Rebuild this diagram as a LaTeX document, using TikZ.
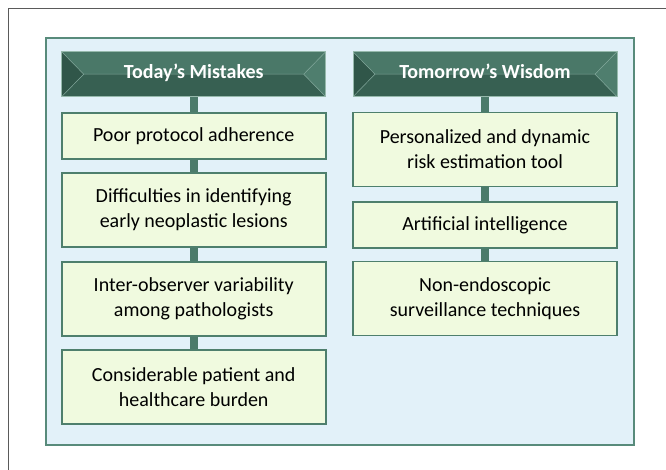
\documentclass[tikz,border=0pt]{standalone}
\usepackage{fontspec}
\setmainfont{Carlito}
\usepackage{tikz}
\usetikzlibrary{calc}
\definecolor{framegray}{RGB}{90,90,90}
\definecolor{panelfill}{RGB}{226,241,249}
\definecolor{panelrim}{RGB}{88,139,123}
\definecolor{boxfill}{RGB}{240,250,223}
\definecolor{boxrim}{RGB}{78,127,109}
\definecolor{linkgreen}{RGB}{75,123,107}
\definecolor{hdrtop}{RGB}{74,120,104}
\definecolor{hdrbot}{RGB}{55,96,82}
\definecolor{hdrleft}{RGB}{48,86,73}
\definecolor{hdrright}{RGB}{79,126,110}
\definecolor{hdrrim}{RGB}{150,185,172}
\tikzset{
  item/.style={rectangle, draw=boxrim, fill=boxfill, line width=1.6pt,
    minimum width=264pt, align=center, inner sep=0pt,
    font=\fontsize{20}{25}\selectfont},
  shortitem/.style={item, minimum height=46pt},
  tallitem/.style={item, minimum height=74pt},
  hdr/.style={rectangle, draw=hdrrim, line width=0.8pt, text=white,
    minimum width=264pt, minimum height=45pt, inner sep=0pt,
    text height=14pt, text depth=4.4pt,
    font=\fontsize{20}{25}\selectfont\bfseries,
    path picture={
      \coordinate (bnw) at (path picture bounding box.north west);
      \coordinate (bne) at (path picture bounding box.north east);
      \coordinate (bsw) at (path picture bounding box.south west);
      \coordinate (bse) at (path picture bounding box.south east);
      \coordinate (bl) at ($(path picture bounding box.west)+(22pt,0)$);
      \coordinate (br) at ($(path picture bounding box.east)+(-22pt,0)$);
      \fill[hdrtop] (bnw) -- (bne) -- (br) -- (bl) -- cycle;
      \fill[hdrbot] (bsw) -- (bse) -- (br) -- (bl) -- cycle;
      \fill[hdrleft] (bnw) -- (bl) -- (bsw) -- cycle;
      \fill[hdrright] (bne) -- (br) -- (bse) -- cycle;
      \draw[hdrrim!70!hdrtop, line width=0.5pt] (bnw) -- (bl) -- (bsw) (bl) -- (br) (bne) -- (br) -- (bse);
    }},
  link/.style={line width=8pt, color=linkgreen}
}

\begin{document}
\begin{tikzpicture}[x=1pt, y=-1pt]
  \useasboundingbox (0,0) rectangle (666,470);

  % outer frame and panel
  \draw[framegray, line width=1pt] (666,8.5) -- (8.5,8.5) -- (8.5,470);
  \draw[fill=panelfill, draw=panelrim, line width=2pt] (46,38) rectangle (634,445);

  % left column
  \node[hdr] (today) at (193.7,74.2) {Today’s Mistakes};
  \node[shortitem] (poor) at (193.7,136) {Poor protocol adherence};
  \node[tallitem] (detect) at (193.7,210) {Difficulties in identifying\\early neoplastic lesions};
  \node[tallitem] (observer) at (193.7,299) {Inter-observer variability\\among pathologists};
  \node[tallitem] (burden) at (193.7,387) {Considerable patient and\\healthcare burden};

  % right column
  \node[hdr] (tomorrow) at (485,74.2) {Tomorrow’s Wisdom};
  \node[tallitem] (risk) at (485,149.5) {Personalized and dynamic\\risk estimation tool};
  \node[shortitem] (ai) at (485,225) {Artificial intelligence};
  \node[tallitem] (nonendo) at (485,298.5) {Non-endoscopic\\surveillance techniques};

  % connectors
  \draw[link] (today) -- (poor);
  \draw[link] (poor) -- (detect);
  \draw[link] (detect) -- (observer);
  \draw[link] (observer) -- (burden);
  \draw[link] (tomorrow) -- (risk);
  \draw[link] (risk) -- (ai);
  \draw[link] (ai) -- (nonendo);
\end{tikzpicture}
\end{document}
